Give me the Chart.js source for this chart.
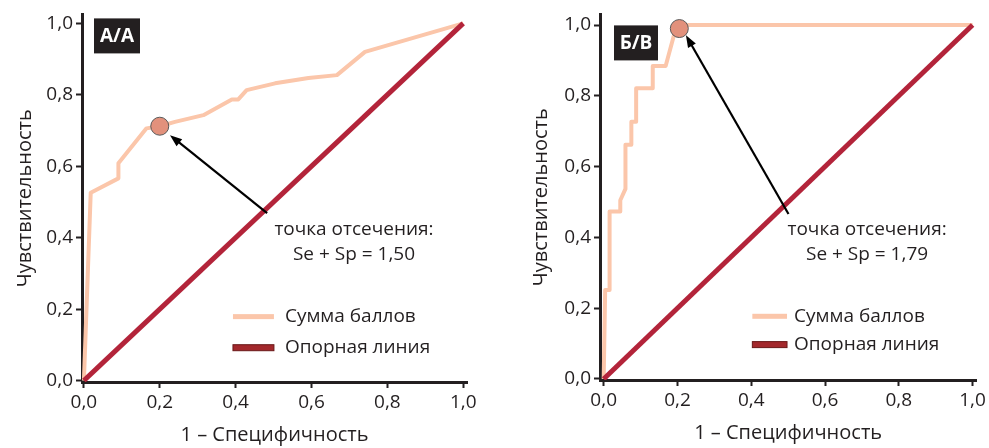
<!DOCTYPE html>
<html>
<head>
<meta charset="utf-8">
<script src="https://cdn.jsdelivr.net/npm/chart.js@4/dist/chart.umd.min.js"></script>
<style>
  html, body { margin: 0; padding: 0; background: #fff; }
  .panel { position: absolute; top: 0; height: 448px; }
</style>
</head>
<body>
<div class="panel" style="left:0;width:500px"><canvas id="chartA" width="500" height="448"></canvas></div>
<div class="panel" style="left:500px;width:489px"><canvas id="chartB" width="489" height="448"></canvas></div>
<script>
// axis ticks
const tickVals = [0, 0.2, 0.4, 0.6, 0.8, 1.0];
const seriesLabels = ["Сумма баллов", "Опорная линия"];
const xTitle = "1 – Специфичность";
const yTitle = "Чувствительность";

// reference diagonal
const refX = [0, 1];
const refY = [0, 1];

// panel A/A
const tagA = "A/A";
const rocAx = [0, 0.018, 0.091, 0.091, 0.165, 0.20, 0.24, 0.315, 0.39, 0.407, 0.429, 0.504, 0.592, 0.667, 0.741, 1.0];
const rocAy = [0, 0.526, 0.566, 0.608, 0.706, 0.712, 0.724, 0.743, 0.787, 0.787, 0.813, 0.832, 0.847, 0.855, 0.92, 1.0];
const cutA = [0.20, 0.712];
const noteA = ["точка отсечения:", "Se + Sp = 1,50"];

// panel Б/В
const tagB = "Б/В";
const rocBx = [0, 0.004, 0.016, 0.016, 0.045, 0.045, 0.059, 0.059, 0.075, 0.075, 0.088, 0.088, 0.133, 0.133, 0.168, 0.198, 1.0];
const rocBy = [0, 0.251, 0.251, 0.473, 0.473, 0.505, 0.537, 0.662, 0.662, 0.727, 0.727, 0.821, 0.821, 0.884, 0.884, 1.0, 1.0];
const cutB = [0.205, 0.99];
const noteB = ["точка отсечения:", "Se + Sp = 1,79"];

const INK = "#231f20";
const FONT = '"Open Sans", "Noto Sans", sans-serif';

const pts = (xs, ys) => xs.map((v, i) => ({ x: v, y: ys[i] }));
const fmt = v => Number(v).toFixed(1).replace(".", ",");

const extras = {
  id: "rocExtras",
  afterDatasetsDraw(chart) {
    const o = chart.options.plugins.rocExtras;
    if (!o) return;
    const { ctx, chartArea, scales: { x, y } } = chart;
    ctx.save();

    // arrow to the cut-off point
    const x1 = x.getPixelForValue(o.arrowFrom[0]), y1 = y.getPixelForValue(o.arrowFrom[1]);
    const x2 = x.getPixelForValue(o.arrowTo[0]), y2 = y.getPixelForValue(o.arrowTo[1]);
    const a = Math.atan2(y2 - y1, x2 - x1), c = Math.cos(a), s = Math.sin(a);
    ctx.strokeStyle = "#000";
    ctx.fillStyle = "#000";
    ctx.lineWidth = 2.2;
    ctx.beginPath();
    ctx.moveTo(x1, y1);
    ctx.lineTo(x2 - 8 * c, y2 - 8 * s);
    ctx.stroke();
    ctx.beginPath();
    ctx.moveTo(x2, y2);
    ctx.lineTo(x2 - 12 * c + 4.5 * s, y2 - 12 * s - 4.5 * c);
    ctx.lineTo(x2 - 12 * c - 4.5 * s, y2 - 12 * s + 4.5 * c);
    ctx.closePath();
    ctx.fill();

    // note text
    ctx.fillStyle = INK;
    ctx.font = "19px " + FONT;
    ctx.textAlign = "center";
    ctx.textBaseline = "middle";
    const nx = x.getPixelForValue(o.noteAt[0]);
    ctx.fillText(o.note[0], nx, y.getPixelForValue(o.noteAt[1]));
    ctx.fillText(o.note[1], nx, y.getPixelForValue(o.noteAt[2]));

    // legend
    const lx0 = x.getPixelForValue(o.legend.x0), lx1 = x.getPixelForValue(o.legend.x1);
    const ly0 = y.getPixelForValue(o.legend.y0), ly1 = y.getPixelForValue(o.legend.y1);
    ctx.fillStyle = "#fbc6aa";
    ctx.fillRect(lx0, ly0 - 2.5, lx1 - lx0, 5);
    ctx.fillStyle = "#a3282c";
    ctx.strokeStyle = "#6a1818";
    ctx.lineWidth = 1;
    ctx.fillRect(lx0, ly1 - 3, lx1 - lx0, 6);
    ctx.strokeRect(lx0, ly1 - 3, lx1 - lx0, 6);
    ctx.fillStyle = INK;
    ctx.font = "19px " + FONT;
    ctx.textAlign = "left";
    const tx = x.getPixelForValue(o.legend.tx);
    ctx.fillText(seriesLabels[0], tx, ly0);
    ctx.fillText(seriesLabels[1], tx, ly1);

    // panel tag
    const bx = chartArea.left + o.tagBox[0], by = chartArea.top + o.tagBox[1];
    ctx.fillStyle = INK;
    ctx.fillRect(bx, by, o.tagBox[2], o.tagBox[3]);
    ctx.fillStyle = "#fff";
    ctx.font = "bold 19px " + FONT;
    ctx.textAlign = "center";
    ctx.fillText(o.tag, bx + o.tagBox[2] / 2, by + o.tagBox[3] / 2 + 1);
    ctx.restore();
  }
};

function makeChart(id, p) {
  const ctx = document.getElementById(id).getContext("2d");
  const axisBase = {
    type: "linear",
    afterBuildTicks: sc => { sc.ticks = tickVals.map(v => ({ value: v })); },
    grid: { drawOnChartArea: false, drawTicks: true, tickLength: 6, tickWidth: 2, tickColor: INK },
    border: { color: INK, width: 3 },
    ticks: { callback: v => fmt(v), color: INK, padding: 3, font: { family: FONT, size: 19 } }
  };
  return new Chart(ctx, {
    type: "scatter",
    data: {
      datasets: [
        { label: "cut", data: [{ x: p.cut[0], y: p.cut[1] }], pointRadius: 9,
          backgroundColor: "#e2917c", borderColor: "#5a5a5a", borderWidth: 1, order: 0 },
        { label: seriesLabels[1], data: pts(refX, refY), showLine: true, pointRadius: 0,
          borderColor: "#b3243a", borderWidth: 5, order: 1 },
        { label: seriesLabels[0], data: pts(p.rx, p.ry), showLine: true, pointRadius: 0,
          borderColor: "#fbc6aa", borderWidth: 4, borderJoinStyle: "round", order: 2 }
      ]
    },
    options: {
      responsive: false,
      animation: false,
      events: [],
      layout: { padding: p.pad },
      plugins: {
        legend: { display: false },
        tooltip: { enabled: false },
        rocExtras: p.extras
      },
      scales: {
        x: Object.assign({}, axisBase, {
          min: p.xr[0], max: p.xr[1],
          afterFit: sc => { sc.height = p.xh; },
          title: { display: true, text: xTitle, color: INK, font: { family: FONT, size: 20 }, padding: { top: 0, bottom: p.xtp } }
        }),
        y: Object.assign({}, axisBase, {
          min: p.yr[0], max: p.yr[1],
          afterFit: sc => { sc.width = p.yw; },
          title: { display: true, text: yTitle, color: INK, font: { family: FONT, size: 20 }, padding: { top: p.ytp, bottom: 0 } }
        })
      }
    },
    plugins: [extras]
  });
}

makeChart("chartA", {
  rx: rocAx, ry: rocAy, cut: cutA,
  xr: [-0.005, 1.01], yr: [-0.004, 1.025],
  pad: { left: 0, right: 33, top: 14, bottom: 0 },
  xh: 66, yw: 82, xtp: 1, ytp: 13,
  extras: {
    arrowFrom: [0.483, 0.469], arrowTo: [0.227, 0.687],
    note: noteA, noteAt: [0.712, 0.422, 0.352],
    legend: { x0: 0.393, x1: 0.501, y0: 0.179, y1: 0.092, tx: 0.53 },
    tag: tagA, tagBox: [12, 4, 46, 35]
  }
});

makeChart("chartB", {
  rx: rocBx, ry: rocBy, cut: cutB,
  xr: [-0.01, 1.01], yr: [-0.003, 1.03],
  pad: { left: 0, right: 11, top: 7, bottom: 0 },
  xh: 68, yw: 100, xtp: 3, ytp: 29,
  extras: {
    arrowFrom: [0.501, 0.466], arrowTo: [0.223, 0.971],
    note: noteB, noteAt: [0.714, 0.421, 0.352],
    legend: { x0: 0.403, x1: 0.497, y0: 0.177, y1: 0.097, tx: 0.516 },
    tag: tagB, tagBox: [14, 11, 44, 35]
  }
});
</script>
</body>
</html>
